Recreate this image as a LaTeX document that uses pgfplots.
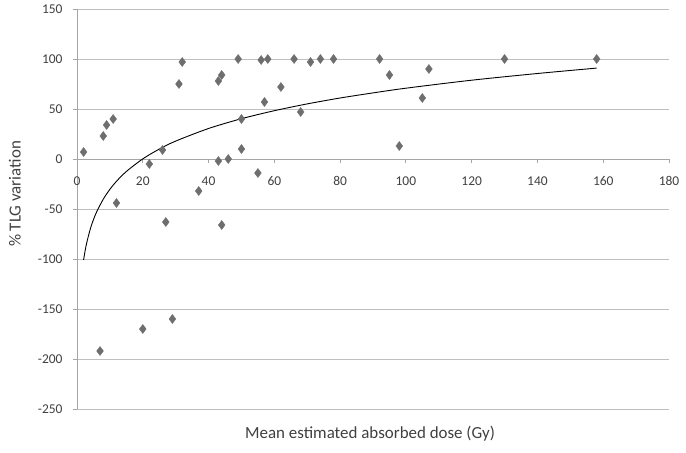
\documentclass[border=0pt]{standalone}
\usepackage{pgfplots}
\pgfplotsset{compat=1.18}
\usepackage{fontspec}
\setmainfont{Carlito}
\definecolor{gridc}{HTML}{BFBFBF}
\definecolor{axc}{HTML}{A6A6A6}
\definecolor{markc}{HTML}{6E6E6E}
\definecolor{txtc}{HTML}{404040}
\begin{document}
\begin{tikzpicture}
\path[use as bounding box] (-77bp,-44bp) rectangle (609bp,409bp);
\begin{axis}[
  scale only axis,
  width=592bp, height=400bp,
  xmin=0, xmax=180, ymin=-250, ymax=150,
  axis x line=middle, axis y line=left,
  hide obscured x ticks=false, hide obscured y ticks=false,
  axis line style={axc, line width=0.8bp, -},
  xtick={0,20,...,180},
  ytick={-250,-200,...,150},
  ymajorgrids,
  grid style={gridc, line width=0.8bp},
  tick align=outside,
  major tick length=4bp,
  tick style={axc, line width=0.8bp},
  tick label style={font=\fontsize{13.5}{15}\selectfont, text=txtc},
  /pgf/number format/assume math mode=true,
  xticklabel style={anchor=center, yshift=-18bp},
  yticklabel style={anchor=east, xshift=-7bp},
  every axis x label/.style={at={(axis description cs:0.495,-0.0625)}, anchor=center, font=\fontsize{17}{19}\selectfont, text=txtc},
  every axis y label/.style={at={(axis description cs:-0.105,0.5375)}, rotate=90, anchor=center, font=\fontsize{17}{19}\selectfont, text=txtc},
  xlabel={Mean estimated absorbed dose (Gy)},
  ylabel={\% TLG variation},
  clip=false,
]
\addplot[only marks, mark=diamond*, mark size=4.5bp, mark options={fill=markc, draw=markc}] coordinates {
(2,7) (7,-192) (8,23) (9,34) (11,40) (12,-44) (20,-170) (22,-5) (26,9) (27,-63)
(29,-160) (31,75) (32,97) (37,-32) (43,78) (44,84) (43,-2) (44,-66) (46,0) (49,100)
(50,40) (50,10) (55,-14) (56,99) (57,57) (58,100) (62,72) (66,100) (68,47) (71,97)
(74,100) (78,100) (92,100) (95,84) (98,13) (105,61) (107,90) (130,100) (158,100)
};
\addplot[black, line width=0.9bp, smooth] coordinates {
(2,-101.0) (2.5,-91.2) (3,-83.2) (4,-70.5) (5,-60.7) (6,-52.7) (8,-40.1) (10,-30.3)
(12,-22.3) (15,-12.5) (20,0.1) (25,9.9) (30,17.9) (40,30.5) (50,40.3) (60,48.3)
(70,55.1) (80,61.0) (90,66.1) (100,70.8) (120,78.8) (140,85.5) (158,90.9)
};
\end{axis}
\end{tikzpicture}
\end{document}
